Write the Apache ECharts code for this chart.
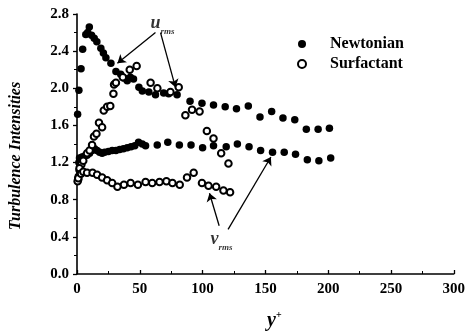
<!DOCTYPE html>
<html>
    <head>
        <meta charset="utf-8">
        <title>turbulence-intensities</title>
        <style>html,body{margin:0;padding:0;background:#fff}#chart{width:468px;height:336px}</style>
    </head>
    <body>
        <div id="chart"></div>
        <script type="text/javascript" src="https://fastly.jsdelivr.net/npm/echarts@6/dist/echarts.min.js"></script>
        <script>
            // [y+, intensity]
            const newtU = [[0.5,1.72],[1.5,1.98],[3.2,2.21],[4.5,2.42],[7,2.58],[8.5,2.60],[9.8,2.66],[11.6,2.57],[13.7,2.54],[15.8,2.50],[19,2.43],[21,2.38],[23,2.33],[27,2.27],[31,2.18],[34.8,2.15],[37.5,2.11],[40,2.08],[42.5,2.12],[45,2.10],[49.3,2.01],[52,1.97],[57.2,1.96],[62.5,1.93],[69,1.95],[73,1.94],[79.7,1.93],[90,1.86],[99.5,1.84],[108.7,1.82],[118,1.80],[127,1.78],[136.4,1.81],[145.7,1.69],[155,1.75],[164,1.68],[173.4,1.66],[182.6,1.56],[192,1.56],[201,1.57]];
            const newtV = [[0.5,1.00],[1,1.05],[1.5,1.20],[2,1.25],[3,1.22],[4,1.26],[5,1.24],[6,1.27],[8,1.28],[10,1.30],[12,1.33],[14,1.35],[16,1.33],[18,1.31],[20,1.30],[22,1.31],[25,1.32],[28,1.33],[31,1.33],[34,1.34],[37,1.35],[40,1.36],[43,1.37],[46,1.38],[49,1.42],[52,1.40],[54.6,1.38],[63.9,1.39],[72.3,1.42],[81.5,1.39],[90.8,1.39],[100,1.36],[108.7,1.38],[118.8,1.37],[127.7,1.40],[137,1.37],[146.2,1.33],[155.7,1.31],[165,1.31],[174,1.29],[183.4,1.23],[192.6,1.22],[202,1.25]];
            const surfU = [[1,1.02],[2,1.12],[3.5,1.18],[5,1.22],[8,1.30],[10,1.33],[12,1.39],[13.5,1.48],[15.5,1.51],[17.5,1.63],[20,1.58],[21.3,1.76],[24,1.80],[26.5,1.81],[29,1.94],[29.5,2.04],[31,2.06],[36.5,2.12],[42,2.20],[47.5,2.24],[58.6,2.06],[64,2.00],[74.4,1.96],[81,2.01],[86.3,1.71],[91.6,1.77],[97.6,1.75],[103.4,1.54],[108.7,1.46],[114.8,1.30],[120.6,1.19]];
            const surfV = [[0.5,1.00],[1,1.03],[2,1.14],[3.2,1.08],[5,1.10],[8,1.09],[12.4,1.09],[16,1.07],[20,1.04],[24,1.01],[28,0.98],[32.2,0.94],[37.4,0.96],[42.7,0.98],[48.5,0.96],[54.6,0.99],[59.9,0.98],[65.7,0.99],[71.2,1.00],[76,0.98],[81.8,0.96],[87.6,1.04],[92.9,1.09],[99.5,0.98],[104.7,0.95],[110.8,0.94],[116.6,0.90],[121.9,0.88]];

            // annotation text anchors and arrows, in data coords
            const notes = [{ name: 'u', at: [68, 2.70] }, { name: 'v', at: [115, 0.37] }];
            const arrows = [
                [[62.5, 2.60], [32.2, 2.27]],
                [[66.5, 2.60], [78.4, 2.01]],
                [[113.2, 0.52], [105.5, 0.87]],
                [[120.3, 0.48], [154.4, 1.26]]
            ];

            const serif = '"Liberation Serif", "DejaVu Serif", serif';
            const chart = echarts.init(document.getElementById('chart'));
            const black = { color: '#000', opacity: 1 };

            const opt = {
                animation: false,
                backgroundColor: '#fff',
                grid: { left: 76, right: 13, top: 14, bottom: 59 },
                legend: {
                    orient: 'vertical',
                    left: 292, top: 31,
                    itemWidth: 46, itemHeight: 8, itemGap: 4,
                    data: ['Newtonian', 'Surfactant'],
                    textStyle: { fontFamily: serif, fontWeight: 'bold', fontSize: 16, color: '#000' }
                },
                xAxis: {
                    type: 'value', min: 0, max: 300, interval: 50,
                    name: '{y|y}{p|+}',
                    nameLocation: 'middle', nameGap: 36,
                    nameTextStyle: {
                        padding: [0, 0, 0, 18],
                        rich: {
                            y: { fontFamily: serif, fontWeight: 'bold', fontStyle: 'italic', fontSize: 20, color: '#000', lineHeight: 22 },
                            p: { fontFamily: serif, fontWeight: 'bold', fontSize: 10, color: '#000', verticalAlign: 'top', lineHeight: 22 }
                        }
                    },
                    splitLine: { show: false },
                    axisLine: { lineStyle: { color: '#000', width: 1.6 } },
                    axisTick: { inside: true, length: 4, lineStyle: { color: '#000', width: 1.3 } },
                    minorTick: { show: true, splitNumber: 2, length: 3, lineStyle: { color: '#000', width: 1 } },
                    axisLabel: { margin: 8, fontFamily: serif, fontWeight: 'bold', fontSize: 15, color: '#000' }
                },
                yAxis: {
                    type: 'value', min: 0, max: 2.8, interval: 0.4,
                    name: 'Turbulence Intensities',
                    nameLocation: 'middle', nameGap: 53,
                    nameTextStyle: { fontFamily: serif, fontWeight: 'bold', fontStyle: 'italic', fontSize: 16, color: '#000', padding: [0, 24, 0, 0] },
                    splitLine: { show: false },
                    axisLine: { lineStyle: { color: '#000', width: 1.6 } },
                    axisTick: { inside: false, length: 4, lineStyle: { color: '#000', width: 1.3 } },
                    minorTick: { show: true, splitNumber: 2, length: 3, lineStyle: { color: '#000', width: 1 } },
                    axisLabel: { margin: 8, fontFamily: serif, fontWeight: 'bold', fontSize: 15, color: '#000', formatter: v => v.toFixed(1) }
                },
                series: [
                    {
                        name: 'Newtonian', type: 'scatter', data: newtU,
                        symbol: 'circle', symbolSize: 7.5, itemStyle: black
                    },
                    {
                        name: 'Newtonian', type: 'scatter', data: newtV,
                        symbol: 'circle', symbolSize: 7.5, itemStyle: black
                    },
                    {
                        name: 'Surfactant', type: 'scatter', data: surfU,
                        symbol: 'emptyCircle', symbolSize: 6.5, itemStyle: { color: '#000', opacity: 1, borderColor: '#000', borderWidth: 1.8 }
                    },
                    {
                        name: 'Surfactant', type: 'scatter', data: surfV,
                        symbol: 'emptyCircle', symbolSize: 6.5, itemStyle: { color: '#000', opacity: 1, borderColor: '#000', borderWidth: 1.8 }
                    },
                    {
                        name: 'notes', type: 'scatter', symbolSize: 0, silent: true,
                        data: notes.map(n => ({ name: n.name, value: n.at })),
                        label: {
                            show: true, position: 'inside',
                            formatter: p => '{a|' + p.name + '}{b|rms}',
                            rich: {
                                a: { fontFamily: serif, fontWeight: 'bold', fontStyle: 'italic', fontSize: 18, color: '#000', lineHeight: 20 },
                                b: { fontFamily: serif, fontWeight: 'bold', fontStyle: 'italic', fontSize: 9, color: '#000', verticalAlign: 'bottom', lineHeight: 26 }
                            }
                        },
                        markLine: {
                            silent: true, symbol: ['none', 'arrow'], symbolSize: 8,
                            label: { show: false },
                            lineStyle: { color: '#000', width: 1.3, type: 'solid', opacity: 1 },
                            data: arrows.map(a => [{ coord: a[0] }, { coord: a[1] }])
                        }
                    }
                ]
            };
            chart.setOption(opt);
        </script>
    </body>
</html>
